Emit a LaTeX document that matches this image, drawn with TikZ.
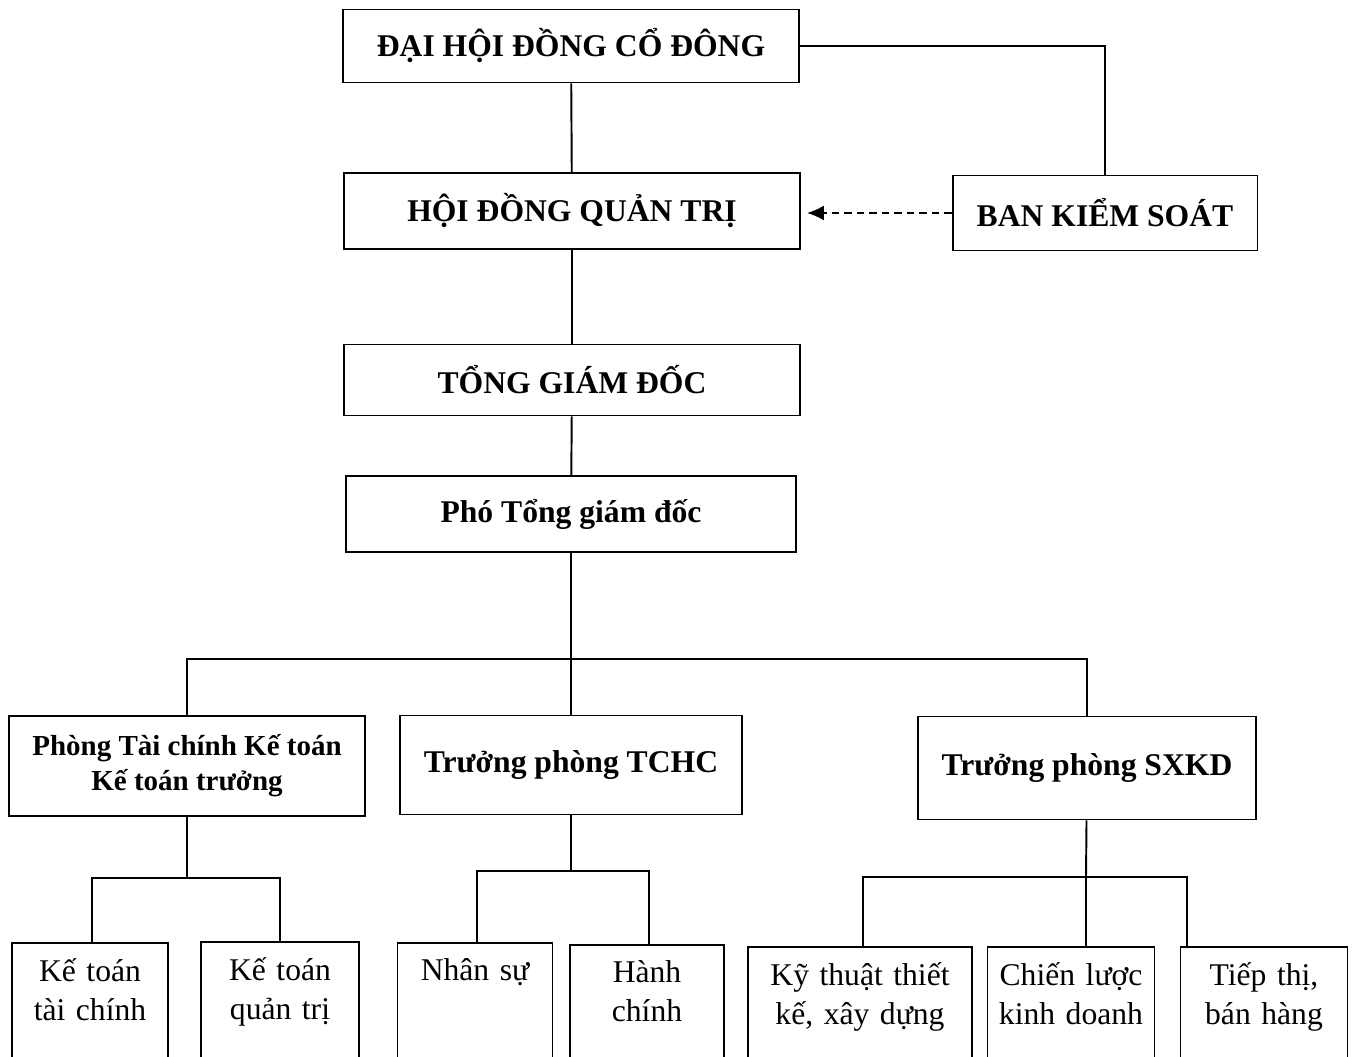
\documentclass[tikz,border=0pt]{standalone}
\usepackage{fontspec}
\setmainfont{Liberation Serif}
\usetikzlibrary{calc,arrows.meta}

\tikzset{
	box/.style={draw, line width=1.1pt, align=center, inner sep=0pt,
		font=\bfseries\fontsize{18}{22}\selectfont},
	leaf/.style={draw, line width=1.1pt, anchor=north, align=center,
		inner xsep=0pt, inner ysep=0.32cm, text depth=4cm,
		font=\fontsize{18}{22}\selectfont},
	link/.style={line width=1.1pt},
}

\begin{document}
\begin{tikzpicture}[x=0.02cm, y=-0.02cm]
		%%%%% START %%%%%
		\clip (0, 0) rectangle (1359, 1057);
		
		% top levels
		\node[box, minimum width=9.14cm, minimum height=1.46cm] (dhd) at (571, 46) {ĐẠI HỘI ĐỒNG CỔ ĐÔNG};
		\node[box, minimum width=9.12cm, minimum height=1.52cm] (hdqt) at (572, 211) {HỘI ĐỒNG QUẢN TRỊ};
		\node[box, minimum width=6.1cm, minimum height=1.5cm] (bks) at (1105, 213) {BAN KIỂM SOÁT};
		\node[box, minimum width=9.12cm, minimum height=1.42cm] (tgd) at (572, 380) {TỔNG GIÁM ĐỐC};
		\node[box, minimum width=9.0cm, minimum height=1.52cm] (ptgd) at (571, 514) {Phó Tổng giám đốc};
		
		% departments
		\node[box, minimum width=7.12cm, minimum height=2.0cm,
			font=\bfseries\fontsize{16.5}{20}\selectfont] (tckt) at (187, 766) {Phòng Tài chính Kế toán\\Kế toán trưởng};
		\node[box, minimum width=6.84cm, minimum height=1.98cm] (tchc) at (571, 765) {Trưởng phòng TCHC};
		\node[box, minimum width=6.76cm, minimum height=2.06cm] (sxkd) at (1087, 768) {Trưởng phòng SXKD};
		
		% sections
		\node[leaf, text width=3.12cm] (kttc) at (90, 942) {Kế toán\\tài chính};
		\node[leaf, text width=3.16cm] (ktqt) at (280, 941) {Kế toán\\quản trị};
		\node[leaf, text width=3.1cm] (ns) at (475, 942) {Nhân sự};
		\node[leaf, text width=3.08cm] (hc) at (647, 944) {Hành\\chính};
		\node[leaf, text width=4.48cm] (ktxd) at (860, 946) {Kỹ thuật thiết\\kế, xây dựng};
		\node[leaf, text width=3.34cm] (cl) at (1071, 946) {Chiến lược\\kinh doanh};
		\node[leaf, text width=3.34cm] (tt) at (1264, 946) {Tiếp thị,\\bán hàng};
		
		\coordinate (bus) at (571, 659);
		\coordinate (bus1) at (187, 878);
		\coordinate (bus2) at (571, 871);
		\coordinate (bus3) at (1086, 877);
		
		\draw[link] (dhd) -- (hdqt);
		\draw[link] (dhd.east) -| (bks.north);
		\draw[link, dash pattern=on 0.15cm off 0.1cm, shorten >=0.12cm,
			-{Latex[length=0.34cm, width=0.3cm]}] (bks.west) -- (bks.west -| hdqt.east);
		\draw[link] (hdqt) -- (tgd);
		\draw[link] (tgd) -- (ptgd);
		\draw[link] (ptgd) -- (tchc);
		\draw[link] (tckt.north) |- (bus) -| (sxkd.north);
		
		\draw[link] (tckt) -- (bus1);
		\draw[link] ([xshift=0.04cm]kttc.north) |- (bus1) -| (ktqt.north);
		
		\draw[link] (tchc) -- (bus2);
		\draw[link] ([xshift=0.04cm]ns.north) |- (bus2) -| ([xshift=0.04cm]hc.north);
		
		\draw[link] (sxkd) -- (bus3);
		\draw[link] ([xshift=0.06cm]ktxd.north) |- (bus3) -| ([xshift=0.14cm]tt.north west);
		\draw[link] (bus3) -- (bus3 |- cl.north);
		%%%%% END %%%%%
\end{tikzpicture}
\end{document}
